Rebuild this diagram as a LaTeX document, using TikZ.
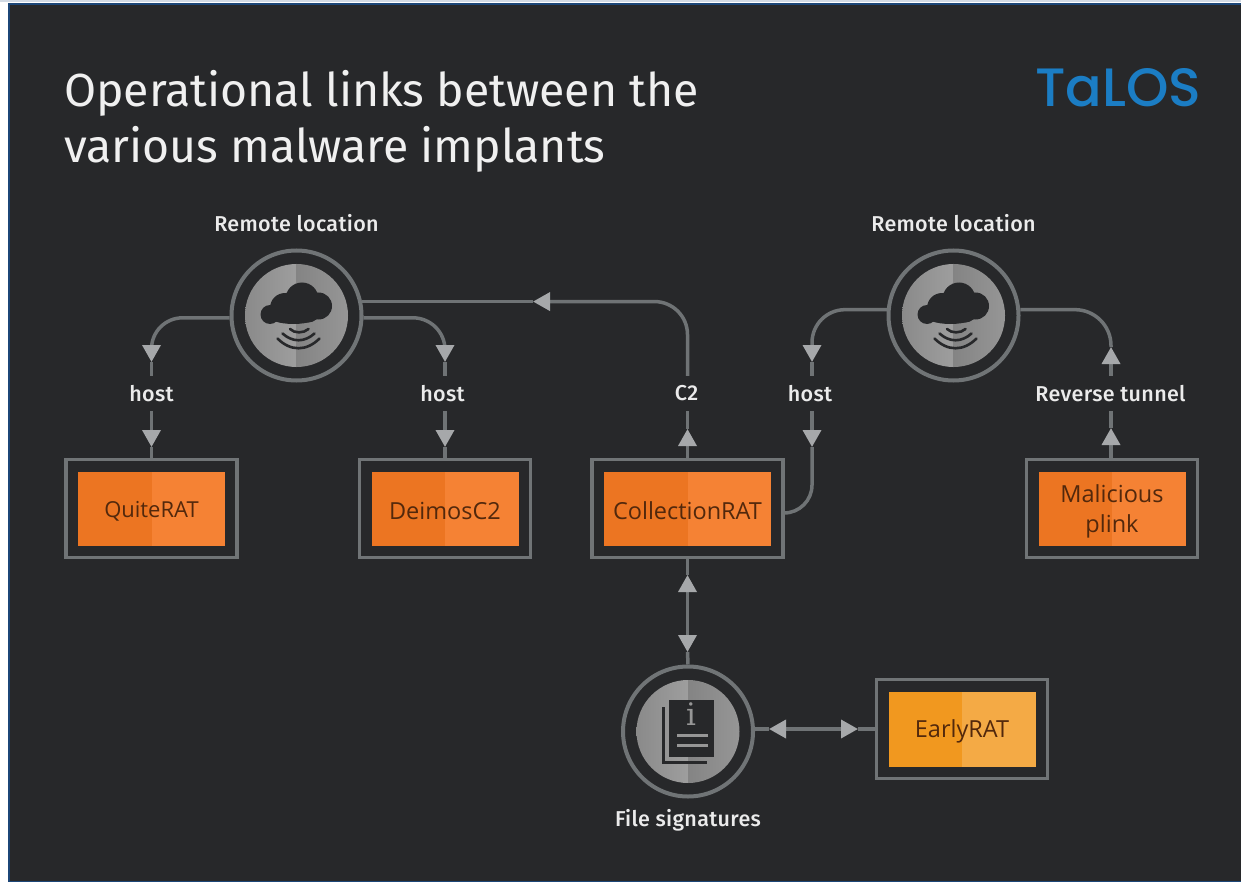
\documentclass[tikz,border=0pt]{standalone}
\usepackage{fontspec}
\setmainfont{Open Sans}
\newfontfamily\titlefont{Fira Sans}
\newfontfamily\labelfont[LetterSpace=1.5]{Fira Sans Medium}
\newfontfamily\logofont{Poppins Medium}
\newfontfamily\iconfont{DejaVu Serif}
\usetikzlibrary{arrows.meta}
\definecolor{bgdark}{HTML}{27282A}
\definecolor{framegray}{HTML}{707476}
\definecolor{linegray}{HTML}{6F7375}
\definecolor{tipgray}{HTML}{A6A8AA}
\definecolor{orangeL}{HTML}{EC7522}
\definecolor{orangeR}{HTML}{F58234}
\definecolor{amberL}{HTML}{F1981F}
\definecolor{amberR}{HTML}{F4AA45}
\definecolor{discA}{HTML}{8A8A8A}
\definecolor{discB}{HTML}{9E9E9E}
\definecolor{discC}{HTML}{848484}
\definecolor{discD}{HTML}{969696}
\definecolor{talosblue}{HTML}{1B7DC4}
\definecolor{edgeblue}{HTML}{1C4677}
\definecolor{ratbrown}{HTML}{52280C}
\tikzset{
  x=1pt,y=-1pt,
  conn/.style={draw=linegray,line width=3.5pt},
  tipm/.style={-{Triangle[length=17pt,width=18pt,color=tipgray]}},
  tipb/.style={{Triangle[length=17pt,width=18pt,color=tipgray]}-{Triangle[length=17pt,width=18pt,color=tipgray]}},
  lab/.style={font=\labelfont\fontsize{21.5}{24}\selectfont,text=white!92!black,inner sep=0pt},
  gaplab/.style={lab,minimum height=35pt},
  rat/.style={font=\fontsize{23.5}{30}\selectfont,text=ratbrown,align=center,inner sep=0pt},
  frm/.style={draw=framegray,line width=3.5pt,fill=bgdark,inner sep=0pt},
  ring/.style={circle,draw=framegray,line width=4pt,fill=bgdark,minimum size=130pt,inner sep=0pt},
}
% #1 name, #2 cx, #3 cy, #4 half width of frame, #5 half height, #6 left col, #7 right col, #8 text
\newcommand{\ratbox}[8]{%
  \node[frm,minimum width=2*#4 pt,minimum height=2*#5 pt] (#1) at (#2,#3) {};
  \fill[#6] (#2-#4+12,#3-#5+12) rectangle (#2,#3+#5-12);
  \fill[#7] (#2,#3-#5+12) rectangle (#2+#4-12,#3+#5-12);
  \node[rat] (#1t) at (#2,#3+2.5) {#8};
}
\newcommand{\discat}[3]{%
  \node[ring] (#1) at (#2,#3) {};
  \shade[left color=discA,right color=discB] (#2,#3-51.5) arc[start angle=90,end angle=270,radius=51.5pt] -- cycle;
  \shade[left color=discC,right color=discD] (#2,#3-51.5) arc[start angle=90,end angle=-90,radius=51.5pt] -- cycle;
}
\newcommand{\cloudat}[2]{%
  \begin{scope}[shift={(#1,#2)}]
    \fill[bgdark] (-26.5,-1) circle[radius=9.5pt];
    \fill[bgdark] (-11.5,-7.5) circle[radius=15pt];
    \fill[bgdark] (5.5,-16.5) circle[radius=16.5pt];
    \fill[bgdark] (22,-9.5) circle[radius=13.5pt];
    \fill[bgdark] (-3,-0.5) ellipse[x radius=26pt,y radius=9pt];
    \fill[bgdark] (12,-4) circle[radius=11pt];
    \draw[bgdark,line width=2.6pt,line cap=round] (-6.5,13.5) .. controls (-2,18) and (7,18) .. (12,13.5);
    \draw[bgdark,line width=2.6pt,line cap=round] (-14,18) .. controls (-4,27) and (8,27) .. (18,18);
    \draw[bgdark,line width=2.6pt,line cap=round] (-19,23) .. controls (-6,36) and (10,36) .. (23,23);
  \end{scope}%
}
\begin{document}
\begin{tikzpicture}
\useasboundingbox (0,0) rectangle (1241,882);
\fill[white] (0,0) rectangle (1241,882);
\fill[edgeblue!20!white] (0,0) rectangle (1241,2);
\fill[edgeblue] (8,3) rectangle (1241,882);
\fill[bgdark] (10,5) rectangle (1241,881);

\node[anchor=base west,inner sep=0pt,font=\titlefont\fontsize{46.4}{52}\selectfont,text=white!94!black] (t1) at (64,107) {Operational links between the};
\node[anchor=base west,inner sep=0pt,font=\titlefont\fontsize{46.4}{52}\selectfont,text=white!94!black] (t2) at (64,163) {various malware implants};
\node[anchor=center,inner sep=0pt,font=\logofont\fontsize{54}{56}\selectfont,text=talosblue] (logo) at (1118,88) {TaLOS};

\ratbox{quite}{151.5}{508.5}{85.5}{49}{orangeL}{orangeR}{\fontsize{22}{30}\selectfont QuiteRAT}
\ratbox{deimos}{445}{508.5}{85.5}{49}{orangeL}{orangeR}{DeimosC2}
\ratbox{coll}{687.5}{508.5}{95.5}{49}{orangeL}{orangeR}{CollectionRAT}
\ratbox{plink}{1112}{508.5}{85.5}{49}{orangeL}{orangeR}{Malicious\\plink}
\ratbox{early}{962}{729}{85.5}{49.5}{amberL}{amberR}{EarlyRAT}

\discat{rl}{296.5}{315.5}
\discat{rr}{953.5}{315.5}
\discat{fs}{688}{731.5}
\cloudat{296.5}{315.5}
\cloudat{953.5}{315.5}

\node[lab] (lrl) at (296.5,223) {Remote location};
\node[lab] (lrr) at (953.5,223) {Remote location};
\node[lab] (lfs) at (688,820) {File signatures};
\node[gaplab] (lh1) at (151.5,393.5) {host};
\node[gaplab] (lh2) at (442.5,393.5) {host};
\node[gaplab] (lc2) at (686.5,393.5) {C2};
\node[gaplab] (lh3) at (810,393.5) {host};
\node[gaplab] (lrt) at (1110.5,393.5) {Reverse tunnel};

% file icon
\begin{scope}[shift={(688,731.5)}]
  \fill[bgdark] (-19,-31.5) rectangle (26,25.5);
  \draw[bgdark,line width=3pt] (-25,-24.5) -- (-25,31) -- (19,31);
  \node[inner sep=0pt,font=\iconfont\fontsize{31}{31}\selectfont,text=discD] (ic) at (3,-17) {i};
  \draw[discD,line width=3pt] (-11,3.5) -- (20,3.5) (-11,13.5) -- (20,13.5);
\end{scope}

% tip points
\coordinate (a1) at (151.5,362);
\coordinate (a2) at (151.5,447);
\coordinate (b1) at (445,362);
\coordinate (b2) at (445,447);
\coordinate (c1) at (687.5,429);
\coordinate (c2x) at (533,0);
\coordinate (c2) at (c2x |- rl.12);
\coordinate (d1) at (812,362);
\coordinate (d2) at (812,447);
\coordinate (dx) at ([yshift=-4.5pt]coll.east);
\coordinate (e1) at (1111,428);
\coordinate (e2) at (1111,347);
\coordinate (f1) at (687.5,575);
\coordinate (f2) at (687.5,652);
\coordinate (g1) at (769,729);
\coordinate (g2) at (858,729);
\coordinate (gs) at (fs.east |- g1);
\coordinate (ge) at (early.west |- g1);

% connectors
\draw[conn,tipm,rounded corners=31pt] (rl.182) -| (a1);
\draw[conn] (a1) -- (a1 |- lh1.north);
\draw[conn,tipm] (a1 |- lh1.south) -- (a2);
\draw[conn] (a2) -- (quite.north -| a2);

\draw[conn,tipm,rounded corners=32pt] (rl.-2) -| (b1);
\draw[conn] (b1) -- (b1 |- lh2.north);
\draw[conn,tipm] (b1 |- lh2.south) -- (b2);
\draw[conn] (b2) -- (deimos.north -| b2);

\draw[conn,tipm] (coll.north) -- (c1);
\draw[conn] (c1) -- (c1 |- lc2.south);
\draw[conn,tipm,rounded corners=33pt] (c1 |- lc2.north) |- (c2);
\draw[conn] (c2) -- (rl.12);

\draw[conn,tipm,rounded corners=33pt] (rr.175) -| (d1);
\draw[conn] (d1) -- (d1 |- lh3.north);
\draw[conn,tipm] (d1 |- lh3.south) -- (d2);
\draw[conn,rounded corners=28pt] (d2) |- (dx);

\draw[conn,tipm] (e1 |- plink.north) -- (e1);
\draw[conn] (e1) -- (e1 |- lrt.south);
\draw[conn,tipm] (e1 |- lrt.north) -- (e2);
\draw[conn,rounded corners=36pt] (e2) |- (rr.5);

\draw[conn] (coll.south) -- (f1);
\draw[conn,tipb] (f1) -- (f2);
\draw[conn] (f2) -- (fs.north);

\draw[conn] (gs) -- (g1);
\draw[conn,tipb] (g1) -- (g2);
\draw[conn] (g2) -- (ge);
\end{tikzpicture}
\end{document}
